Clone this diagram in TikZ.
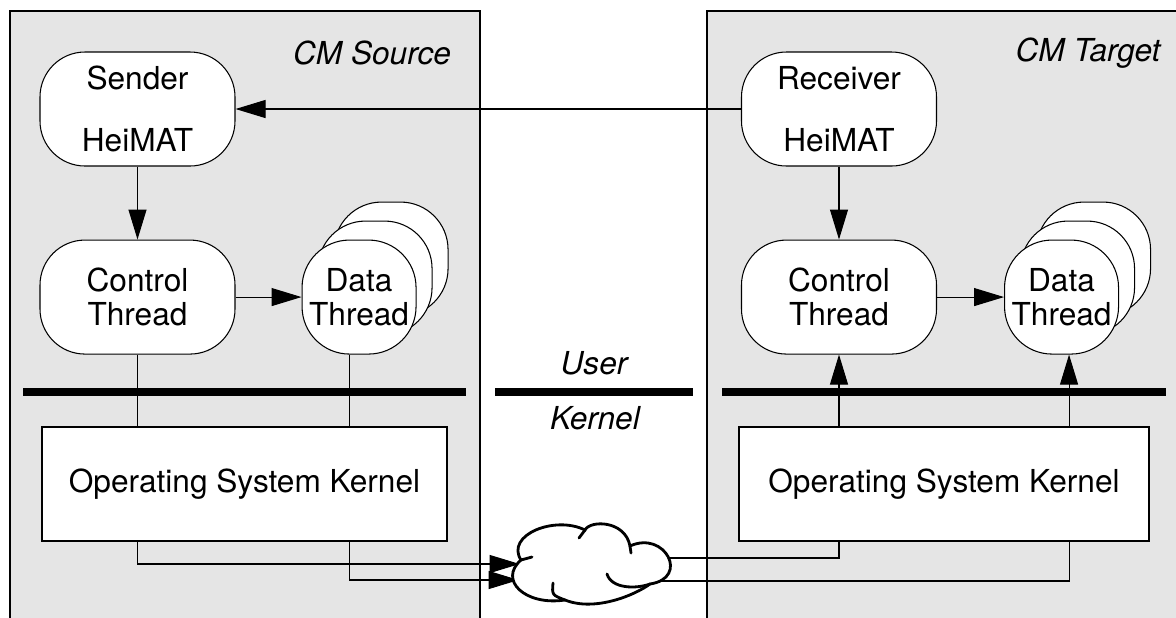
\documentclass[tikz,border=0pt]{standalone}
\usepackage{fontspec}
\setmainfont{TeX Gyre Heros}
\usepackage{xcolor}
\usepackage{tikz}
\usetikzlibrary{positioning,calc,arrows.meta,shadows,backgrounds}
\definecolor{HInk}{HTML}{000000}
\definecolor{HPanel}{HTML}{E5E5E5}
\definecolor{HBg}{HTML}{FFFFFF}

\begin{document}
\begin{tikzpicture}[
  every node/.style={font=\fontsize{18}{19.5}\selectfont, text=HInk},
  proc/.style ={draw=HInk, fill=HBg, rounded corners=0.9cm,
               minimum width=3.9cm, minimum height=2.28cm, align=center, line width=0.6pt},
  thr/.style  ={draw=HInk, fill=HBg, rounded corners=0.95cm, inner sep=1pt,
               minimum width=2.28cm, minimum height=2.28cm, align=center, line width=0.6pt,
               double copy shadow={shadow xshift=0.32cm, shadow yshift=0.38cm}},
  kern/.style ={draw=HInk, fill=HBg, minimum width=8.1cm, minimum height=2.28cm, line width=0.6pt},
  panel/.style={fill=HPanel},
  wire/.style ={draw=HInk, line width=0.6pt},
  bar/.style  ={draw=HInk, line width=4.6pt},
  puff/.style ={draw=HInk, line width=1.6pt, line cap=round},
  lbl/.style  ={font=\fontsize{18}{19.5}\selectfont\itshape},
  arrow/.style={-{Triangle[length=0.6cm, width=0.36cm]}, wire},
]
\useasboundingbox (0,0) rectangle (23.52,-12.34);
\clip (0,0) rectangle (23.52,-12.34);
\node[lbl] (src) at (7.44,-1.06) {CM Source};
\node[lbl] (tgt) at (21.76,-1.06) {CM Target};
\node[proc] (sender) at (2.75,-2.18) {Sender\\[16pt]HeiMAT};
\node[proc, below=1.46cm of sender] (ctrlL) {Control\\Thread};
\node[thr, right=1.32cm of ctrlL] (dataL) {Data\\Thread};
\node[kern] (kernL) at (4.89,-9.68) {Operating System Kernel};
\node[proc] (receiver) at (16.78,-2.18) {Receiver\\[16pt]HeiMAT};
\node[proc, below=1.46cm of receiver] (ctrlR) {Control\\Thread};
\node[thr, right=1.34cm of ctrlR] (dataR) {Data\\Thread};
\node[kern, minimum width=8.2cm] (kernR) at (18.88,-9.68) {Operating System Kernel};
\draw[bar] (0.46,-7.84) -- (9.32,-7.84);
\draw[bar] (9.9,-7.84) -- (13.86,-7.84);
\draw[bar] (14.44,-7.84) -- (23.32,-7.84);
\node[lbl] (user) at (11.88,-7.26) {User};
\node[lbl] (kernel) at (11.9,-8.36) {Kernel};
\node[minimum width=3.06cm, minimum height=1.56cm, inner sep=0pt] (net) at (11.83,-11.28) {};
\begin{scope}[shift={(net.center)}]
\filldraw[puff, fill=HBg] (-1.41,0.08) .. controls (-1.73,0.58) and (-0.73,0.98) .. (-0.13,0.68)
  .. controls (-0.03,0.88) and (0.67,0.88) .. (0.77,0.36)
  .. controls (1.47,0.68) and (1.97,-0.28) .. (1.17,-0.4)
  .. controls (0.87,-0.62) and (0.07,-0.96) .. (-0.53,-0.72)
  .. controls (-1.33,-0.84) and (-1.87,-0.32) .. cycle;
\draw[puff] (-1.41,0.08) -- (-1.19,0.14);
\draw[puff] (-0.13,0.68) -- (-0.25,0.52);
\draw[puff] (0.77,0.36) -- (0.79,0.22);
\draw[puff] (-0.77,-0.38) .. controls (-0.79,-0.62) .. (-0.53,-0.72);
\draw[puff] (0.31,-0.2) .. controls (0.4,-0.5) and (0.9,-0.5) .. (1.17,-0.4);
\end{scope}
\draw[arrow] (receiver) -- (sender);
\draw[arrow] (sender) -- (ctrlL);
\draw[arrow] (ctrlL) -- (dataL);
\draw[arrow] (receiver) -- (ctrlR);
\draw[arrow] (ctrlR) -- (dataR);
\draw[wire] (ctrlL) -- (ctrlL |- kernL.north);
\draw[wire] ([xshift=-2mm]dataL.south) -- ([xshift=-2mm]dataL.south |- kernL.north);
\draw[arrow] (ctrlR |- kernR.north) -- (ctrlR);
\draw[arrow] ([xshift=1.5mm]dataR.south |- kernR.north) -- ([xshift=1.5mm]dataR.south);
\begin{scope}[on background layer]
\fill[panel] (0.2,-0.22) rectangle (9.6,-12.6);
\fill[panel] (14.14,-0.22) rectangle (23.8,-12.6);
\draw[wire] (0.2,-12.6) |- (9.6,-0.22) -- (9.6,-12.6);
\draw[wire] (14.14,-12.6) |- (23.8,-0.22);
\draw[arrow] (kernL.south -| ctrlL) |- ([xshift=1mm]net.west);
\draw[arrow] ([xshift=-2mm]dataL.south |- kernL.south) |- ([xshift=0.8mm,yshift=-3.2mm]net.west);
\draw[wire] ([yshift=1.2mm]net.east) -| (ctrlR |- kernR.south);
\draw[wire] ([xshift=-4mm,yshift=-3.4mm]net.east) -| ([xshift=1.5mm]dataR.south |- kernR.south);
\end{scope}
\end{tikzpicture}
\end{document}
